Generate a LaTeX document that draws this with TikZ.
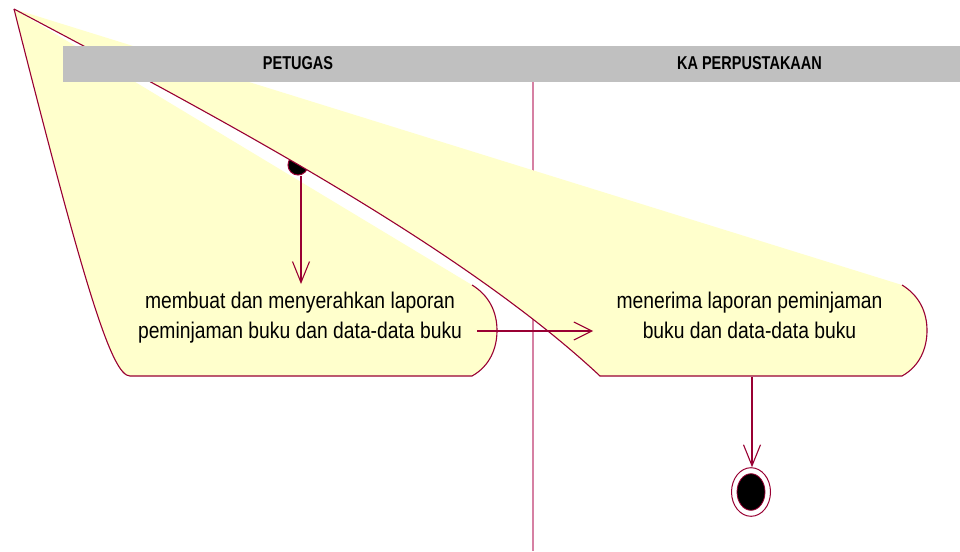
\documentclass[tikz,border=0pt]{standalone}
\usepackage{fontspec}
\setmainfont{Liberation Sans}
\newfontfamily\bodyfont[FakeStretch=0.85]{Liberation Sans}
\newfontfamily\headfont[FakeStretch=0.78]{Liberation Sans}
\usetikzlibrary{arrows.meta,shapes.geometric}
\definecolor{rose}{RGB}{153,0,51}
\definecolor{lanepink}{RGB}{214,128,163}
\definecolor{actfill}{RGB}{255,255,204}
\definecolor{headgray}{RGB}{192,192,192}
\tikzset{
  outline/.style={draw=rose, line width=1.1pt},
  flowv/.style={draw=rose, line width=1.1pt, -{Straight Barb[length=21pt,width=17pt]}},
  flowh/.style={draw=rose, line width=1.1pt, -{Straight Barb[length=18pt,width=18pt]}},
  acttext/.style={anchor=north, inner sep=0pt, align=center, font=\bodyfont\fontsize{22.7}{30}\selectfont},
  lanetext/.style={anchor=base, inner sep=0pt, font=\headfont\bfseries\fontsize{18.6}{20}\selectfont},
}
\begin{document}
\begin{tikzpicture}[x=1pt,y=-1pt]
\useasboundingbox (0,0) rectangle (960,551);
\fill[white] (0,0) rectangle (960,551);

% lane divider
\coordinate (laneTop) at (533,82);
\coordinate (laneBot) at (533,551);
\draw[lanepink, line width=1.4pt] (laneTop) -- (laneBot);

% initial state (partly hidden by the activity shapes)
\node[circle, fill=black, draw=rose, line width=1pt, minimum size=20pt, inner sep=0pt] (init) at (298,165) {};

% activity A (distorted)
\fill[actfill] (14,9) -- (472,285)
  .. controls (490,296) and (497,313) .. (497,330.5)
  .. controls (497,348) and (490,366) .. (472,376)
  -- (130,376) .. controls (112,376) and (85,290) .. (14,9) -- cycle;
\draw[outline] (472,285)
  .. controls (490,296) and (497,313) .. (497,330.5)
  .. controls (497,348) and (490,366) .. (472,376)
  -- (130,376) .. controls (112,376) and (85,290) .. (14,9);

% activity B (distorted)
\fill[actfill] (14,9) -- (902,285)
  .. controls (920,296) and (927,313) .. (927,330.5)
  .. controls (927,348) and (920,366) .. (902,376)
  -- (600,376) .. controls (460,245) and (214,115) .. (14,9) -- cycle;
\draw[outline] (902,285)
  .. controls (920,296) and (927,313) .. (927,330.5)
  .. controls (927,348) and (920,366) .. (902,376)
  -- (600,376) .. controls (460,245) and (214,115) .. (14,9);

% activity texts
\node[acttext] (actA) at (300,292) {membuat dan menyerahkan laporan\\peminjaman buku dan data-data buku};
\node[acttext] (actB) at (749.5,292) {menerima laporan peminjaman\\buku dan data-data buku};

% final state
\node[ellipse, draw=rose, fill=white, line width=1pt, minimum width=39pt, minimum height=48.6pt, inner sep=0pt] (final) at (751,492) {};
\node[ellipse, draw=rose, fill=black, line width=0.8pt, minimum width=28pt, minimum height=36.6pt, inner sep=0pt] (finalcore) at (final.center) {};

% connectors
\coordinate (Ain) at (301,284);
\coordinate (Aout) at (477,331);
\coordinate (Bin) at (593,331);
\coordinate (Bout) at (752,377);
\draw[flowv] (init.south -| Ain) -- (Ain);
\draw[flowh] (Aout) -- (Bin);
\draw[flowv] (Bout) -- (Bout |- final.north);

% swimlane header
\fill[headgray] (63,46) rectangle (960,82);
\node[lanetext] (laneA) at (298,69.3) {PETUGAS};
\node[lanetext] (laneB) at (749.5,69.3) {KA PERPUSTAKAAN};
\end{tikzpicture}
\end{document}
